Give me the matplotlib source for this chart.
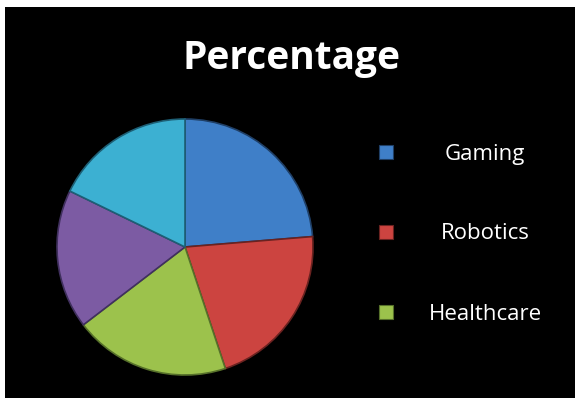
import matplotlib.pyplot as plt
from matplotlib.patches import Rectangle

# slice shares (clockwise from 12 o'clock)
values = [23.7, 21.2, 19.7, 17.6, 17.8]
colors = ["#3f7fc8", "#cc4440", "#9cc24c", "#7c5ba3", "#3cb0d2"]
edges = ["#1f3f66", "#6a2220", "#56702a", "#40305e", "#1d5f75"]
legend_labels = ["Gaming", "Robotics", "Healthcare"]

W, H = 576, 401
fig = plt.figure(figsize=(W / 100, H / 100), dpi=100)
fig.patch.set_facecolor("white")
fig.patches.append(Rectangle((5 / W, 1 - 398 / H), 570 / W, 391 / H,
                             transform=fig.transFigure, facecolor="black",
                             edgecolor="none", zorder=-5))

fig.text(291 / W, 1 - 59 / H, "Percentage", color="white", fontsize=28,
         fontweight="bold", family="Open Sans", ha="center", va="center")

# pie
cx, cy, r = 185, 247, 128
size = 260
ax = fig.add_axes([(cx - size / 2) / W, 1 - (cy + size / 2) / H, size / W, size / H])
ax.set_facecolor("none")
ax.set_zorder(1)
wedges, _ = ax.pie(values, colors=colors, startangle=90, counterclock=False,
                   wedgeprops=dict(linewidth=1.2))
for w, ec in zip(wedges, edges):
    w.set_edgecolor(ec)
lim = size / 2 / r
ax.set_xlim(-lim, lim)
ax.set_ylim(-lim, lim)
ax.set_aspect("equal")
ax.axis("off")

# legend, drawn by hand to keep the labels centred
for i, lab in enumerate(legend_labels):
    ym = 152 + i * 80
    fig.patches.append(Rectangle((379 / W, 1 - (ym + 7) / H), 14 / W, 14 / H,
                                 transform=fig.transFigure, facecolor=colors[i],
                                 edgecolor=edges[i], linewidth=0.8, zorder=2))
    fig.text(485 / W, 1 - (ym + 2) / H, lab, color="white", fontsize=16,
             family="Open Sans", ha="center", va="center")

fig.savefig("out.png", dpi=100, facecolor=fig.get_facecolor())
